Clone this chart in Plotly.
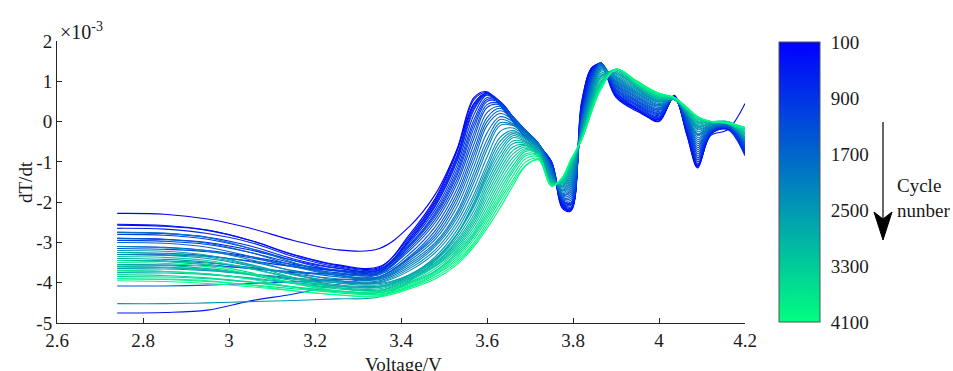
import plotly.graph_objects as go

# ---------------- data (dT/dt in units of 1e-3) ----------------
VOLTAGE = [2.74, 2.85, 2.95, 3.05, 3.15, 3.25, 3.35,
           3.42, 3.48, 3.53, 3.57, 3.60, 3.63, 3.66, 3.69, 3.72,
           3.75, 3.775, 3.795, 3.82, 3.845, 3.865, 3.90, 3.95,
           4.00, 4.035, 4.065, 4.09, 4.12, 4.16, 4.20]

CYCLES = list(range(100, 4101, 100))

DTDT_0100 = [-2.28, -2.30, -2.42, -2.65, -2.95, -3.18, -3.15,
             -2.6, -1.8, -0.7, 0.45, 0.70, 0.45, 0.05, -0.35, -0.6,
             -1.0, -2.15, -2.22, 0.4, 1.35, 1.4, 0.65, 0.3,
             0.0, 0.65, -0.35, -1.15, -0.3, -0.15, -0.75]
DTDT_0200 = [-2.55, -2.58, -2.69, -2.95, -3.31, -3.57, -3.62,
             -2.8, -1.9, -0.7, 0.6, 0.74, 0.42, 0.02, -0.38, -0.62,
             -1.02, -2.12, -2.2, 0.45, 1.35, 1.4, 0.62, 0.28,
             0.02, 0.62, -0.32, -1.12, -0.32, -0.18, -0.7]
DTDT_0300 = [-2.57, -2.6, -2.7, -2.95, -3.3, -3.55, -3.6,
             -2.85, -1.95, -0.75, 0.55, 0.72, 0.4, 0.0, -0.4, -0.65,
             -1.05, -2.1, -2.18, 0.5, 1.35, 1.4, 0.6, 0.25,
             0.05, 0.6, -0.3, -1.1, -0.35, -0.2, 0.45]
DTDT_0400 = [-2.9, -2.92, -3.0, -3.19, -3.45, -3.64, -3.68,
             -2.9, -2.0, -0.85, 0.45, 0.7, 0.45, 0.05, -0.35, -0.62,
             -1.02, -2.08, -2.18, 0.4, 1.32, 1.42, 0.65, 0.28,
             0.05, 0.6, -0.28, -1.08, -0.32, -0.15, -0.78]
DTDT_0500 = [-4.75, -4.74, -4.68, -4.45, -4.28, -4.05, -3.75,
             -2.95, -2.05, -0.9, 0.4, 0.66, 0.45, 0.05, -0.35, -0.6,
             -1.0, -2.05, -2.18, 0.3, 1.3, 1.45, 0.7, 0.3,
             0.05, 0.6, -0.25, -1.05, -0.3, -0.1, -0.8]
DTDT_0600 = [-2.75, -2.78, -2.87, -3.09, -3.41, -3.63, -3.68,
             -2.95, -2.08, -0.95, 0.35, 0.7, 0.48, 0.08, -0.32, -0.6,
             -1.0, -2.02, -2.15, 0.28, 1.28, 1.45, 0.7, 0.32,
             0.08, 0.6, -0.22, -1.0, -0.3, -0.15, -0.82]
DTDT_0700 = [-2.65, -2.67, -2.78, -3.0, -3.35, -3.6, -3.65,
             -2.95, -2.1, -1.0, 0.3, 0.7, 0.5, 0.1, -0.3, -0.6,
             -1.0, -2.0, -2.12, 0.25, 1.25, 1.45, 0.7, 0.35,
             0.1, 0.6, -0.2, -0.95, -0.3, -0.2, -0.85]
DTDT_0800 = [-3.3, -3.31, -3.35, -3.46, -3.6, -3.7, -3.72,
             -3.0, -2.18, -1.1, 0.18, 0.66, 0.5, 0.11, -0.29, -0.59,
             -1.02, -1.98, -2.08, 0.2, 1.22, 1.45, 0.72, 0.38,
             0.12, 0.6, -0.18, -0.9, -0.28, -0.15, -0.75]
DTDT_0900 = [-3.1, -3.12, -3.2, -3.35, -3.55, -3.68, -3.7,
             -3.05, -2.25, -1.2, 0.05, 0.6, 0.5, 0.12, -0.28, -0.58,
             -1.05, -1.95, -2.05, 0.15, 1.2, 1.45, 0.75, 0.4,
             0.15, 0.6, -0.15, -0.85, -0.25, -0.1, -0.65]
DTDT_1000 = [-2.95, -2.97, -3.05, -3.25, -3.52, -3.71, -3.75,
             -3.08, -2.3, -1.28, -0.05, 0.55, 0.49, 0.12, -0.26, -0.56,
             -1.08, -1.95, -2.02, 0.12, 1.18, 1.45, 0.78, 0.42,
             0.18, 0.6, -0.1, -0.8, -0.25, -0.12, -0.68]
DTDT_1100 = [-2.8, -2.82, -2.92, -3.15, -3.45, -3.7, -3.75,
             -3.1, -2.35, -1.35, -0.15, 0.5, 0.48, 0.12, -0.25, -0.55,
             -1.1, -1.95, -2.0, 0.1, 1.15, 1.45, 0.8, 0.45,
             0.2, 0.6, -0.05, -0.75, -0.25, -0.15, -0.7]
DTDT_1200 = [-3.15, -3.17, -3.23, -3.38, -3.6, -3.75, -3.78,
             -3.15, -2.42, -1.45, -0.28, 0.42, 0.45, 0.12, -0.23, -0.55,
             -1.1, -1.92, -1.95, 0.08, 1.12, 1.45, 0.82, 0.48,
             0.22, 0.6, -0.02, -0.7, -0.22, -0.12, -0.62]
DTDT_1300 = [-3.45, -3.47, -3.55, -3.65, -3.75, -3.78, -3.75,
             -3.2, -2.5, -1.55, -0.4, 0.35, 0.42, 0.12, -0.22, -0.55,
             -1.1, -1.9, -1.9, 0.05, 1.1, 1.45, 0.85, 0.5,
             0.25, 0.6, 0.0, -0.65, -0.2, -0.1, -0.55]
DTDT_1400 = [-3.55, -3.56, -3.58, -3.64, -3.73, -3.79, -3.8,
             -3.28, -2.6, -1.68, -0.55, 0.22, 0.38, 0.11, -0.22, -0.55,
             -1.12, -1.88, -1.85, 0.02, 1.08, 1.45, 0.88, 0.52,
             0.28, 0.6, 0.02, -0.6, -0.2, -0.1, -0.58]
DTDT_1500 = [-4.08, -4.08, -4.06, -4.02, -3.98, -3.92, -3.85,
             -3.35, -2.7, -1.8, -0.7, 0.1, 0.33, 0.1, -0.22, -0.55,
             -1.15, -1.85, -1.8, 0.0, 1.05, 1.45, 0.9, 0.55,
             0.3, 0.6, 0.05, -0.55, -0.2, -0.1, -0.6]
DTDT_1600 = [-2.9, -2.93, -3.02, -3.25, -3.57, -3.8, -3.85,
             -3.38, -2.78, -1.9, -0.82, 0.0, 0.27, 0.08, -0.23, -0.55,
             -1.18, -1.82, -1.75, -0.02, 1.02, 1.42, 0.92, 0.58,
             0.32, 0.58, 0.08, -0.5, -0.18, -0.08, -0.55]
DTDT_1700 = [-3.0, -3.02, -3.12, -3.35, -3.6, -3.82, -3.85,
             -3.4, -2.85, -2.0, -0.95, -0.1, 0.2, 0.05, -0.25, -0.55,
             -1.2, -1.8, -1.7, -0.05, 1.0, 1.4, 0.95, 0.6,
             0.35, 0.55, 0.1, -0.45, -0.15, -0.05, -0.5]
DTDT_1800 = [-3.25, -3.27, -3.33, -3.48, -3.7, -3.85, -3.88,
             -3.45, -2.92, -2.12, -1.1, -0.28, 0.12, 0.0, -0.28, -0.58,
             -1.22, -1.78, -1.65, -0.08, 0.95, 1.4, 0.98, 0.62,
             0.38, 0.55, 0.12, -0.4, -0.15, -0.08, -0.48]
DTDT_1900 = [-2.75, -2.77, -2.88, -3.15, -3.5, -3.8, -3.9,
             -3.5, -3.0, -2.25, -1.25, -0.45, 0.05, -0.05, -0.3, -0.6,
             -1.25, -1.75, -1.6, -0.1, 0.9, 1.4, 1.0, 0.65,
             0.4, 0.55, 0.15, -0.35, -0.15, -0.1, -0.45]
DTDT_2000 = [-3.45, -3.46, -3.51, -3.62, -3.78, -3.9, -3.92,
             -3.55, -3.05, -2.32, -1.38, -0.58, -0.03, -0.08, -0.32, -0.61,
             -1.28, -1.72, -1.55, -0.12, 0.88, 1.38, 1.02, 0.68,
             0.42, 0.55, 0.15, -0.32, -0.12, -0.08, -0.48]
DTDT_2100 = [-3.6, -3.62, -3.68, -3.78, -3.88, -3.95, -3.95,
             -3.6, -3.1, -2.4, -1.5, -0.7, -0.1, -0.1, -0.35, -0.62,
             -1.3, -1.7, -1.5, -0.15, 0.85, 1.35, 1.05, 0.7,
             0.45, 0.55, 0.15, -0.3, -0.1, -0.05, -0.5]
DTDT_2200 = [-3.1, -3.13, -3.21, -3.43, -3.72, -3.94, -3.98,
             -3.65, -3.18, -2.5, -1.65, -0.88, -0.25, -0.16, -0.38, -0.64,
             -1.32, -1.68, -1.45, -0.18, 0.8, 1.32, 1.08, 0.72,
             0.48, 0.55, 0.18, -0.25, -0.1, -0.05, -0.45]
DTDT_2300 = [-3.3, -3.32, -3.4, -3.58, -3.8, -3.97, -4.0,
             -3.7, -3.25, -2.6, -1.8, -1.05, -0.4, -0.22, -0.4, -0.65,
             -1.35, -1.65, -1.4, -0.2, 0.75, 1.3, 1.1, 0.75,
             0.5, 0.55, 0.2, -0.2, -0.1, -0.05, -0.4]
DTDT_2400 = [-3.65, -3.66, -3.7, -3.79, -3.91, -4.0, -4.02,
             -3.8, -3.35, -2.7, -1.9, -1.15, -0.5, -0.26, -0.42, -0.68,
             -1.38, -1.62, -1.35, -0.22, 0.72, 1.28, 1.12, 0.78,
             0.5, 0.55, 0.2, -0.18, -0.08, -0.05, -0.42]
DTDT_2500 = [-4.52, -4.52, -4.5, -4.47, -4.44, -4.4, -4.35,
             -3.95, -3.45, -2.8, -2.0, -1.25, -0.6, -0.3, -0.45, -0.7,
             -1.4, -1.6, -1.3, -0.25, 0.7, 1.25, 1.15, 0.8,
             0.5, 0.55, 0.2, -0.15, -0.05, -0.05, -0.45]
DTDT_2600 = [-3.4, -3.42, -3.49, -3.65, -3.88, -4.05, -4.08,
             -3.85, -3.42, -2.8, -2.05, -1.32, -0.7, -0.35, -0.48, -0.72,
             -1.42, -1.58, -1.25, -0.28, 0.65, 1.2, 1.18, 0.82,
             0.52, 0.55, 0.22, -0.12, -0.05, -0.02, -0.4]
DTDT_2700 = [-3.2, -3.22, -3.32, -3.55, -3.8, -4.0, -4.05,
             -3.8, -3.4, -2.8, -2.1, -1.4, -0.8, -0.4, -0.5, -0.75,
             -1.45, -1.55, -1.2, -0.3, 0.6, 1.15, 1.2, 0.85,
             0.55, 0.55, 0.25, -0.1, -0.05, 0.0, -0.35]
DTDT_2800 = [-3.75, -3.76, -3.8, -3.88, -4.0, -4.08, -4.1,
             -3.82, -3.45, -2.88, -2.2, -1.5, -0.9, -0.48, -0.52, -0.78,
             -1.48, -1.52, -1.18, -0.3, 0.58, 1.12, 1.22, 0.85,
             0.55, 0.55, 0.25, -0.08, -0.02, -0.02, -0.32]
DTDT_2900 = [-3.55, -3.57, -3.65, -3.78, -3.95, -4.08, -4.1,
             -3.85, -3.5, -2.95, -2.3, -1.6, -1.0, -0.55, -0.55, -0.8,
             -1.5, -1.5, -1.15, -0.3, 0.55, 1.1, 1.25, 0.85,
             0.55, 0.55, 0.25, -0.05, 0.0, -0.05, -0.3]
DTDT_3000 = [-3.25, -3.28, -3.36, -3.57, -3.87, -4.08, -4.12,
             -3.88, -3.52, -3.0, -2.38, -1.7, -1.1, -0.63, -0.58, -0.81,
             -1.5, -1.5, -1.12, -0.32, 0.52, 1.05, 1.28, 0.88,
             0.58, 0.55, 0.28, -0.02, 0.0, -0.02, -0.28]
DTDT_3100 = [-3.7, -3.72, -3.78, -3.9, -4.02, -4.12, -4.15,
             -3.9, -3.55, -3.05, -2.45, -1.8, -1.2, -0.72, -0.6, -0.82,
             -1.5, -1.5, -1.1, -0.35, 0.5, 1.0, 1.3, 0.9,
             0.6, 0.55, 0.3, 0.0, 0.0, 0.0, -0.25]
DTDT_3200 = [-3.6, -3.62, -3.68, -3.81, -4.01, -4.15, -4.18,
             -3.92, -3.58, -3.1, -2.52, -1.9, -1.3, -0.81, -0.63, -0.84,
             -1.52, -1.48, -1.08, -0.38, 0.48, 0.98, 1.3, 0.9,
             0.6, 0.58, 0.3, 0.02, 0.0, -0.02, -0.28]
DTDT_3300 = [-3.35, -3.37, -3.45, -3.65, -3.9, -4.12, -4.2,
             -3.95, -3.6, -3.15, -2.6, -2.0, -1.4, -0.9, -0.67, -0.85,
             -1.55, -1.45, -1.05, -0.4, 0.45, 0.95, 1.3, 0.9,
             0.6, 0.6, 0.3, 0.05, 0.0, -0.05, -0.3]
DTDT_3400 = [-3.85, -3.86, -3.9, -3.99, -4.11, -4.2, -4.22,
             -3.98, -3.65, -3.2, -2.68, -2.1, -1.5, -1.0, -0.7, -0.83,
             -1.55, -1.45, -1.02, -0.4, 0.42, 0.92, 1.3, 0.92,
             0.62, 0.6, 0.3, 0.08, 0.0, -0.02, -0.25]
DTDT_3500 = [-3.8, -3.82, -3.88, -3.98, -4.1, -4.2, -4.25,
             -4.0, -3.7, -3.25, -2.75, -2.2, -1.6, -1.1, -0.74, -0.82,
             -1.55, -1.45, -1.0, -0.4, 0.4, 0.9, 1.3, 0.95,
             0.65, 0.6, 0.3, 0.1, 0.0, 0.0, -0.2]
DTDT_3600 = [-3.45, -3.47, -3.55, -3.75, -4.02, -4.21, -4.25,
             -4.02, -3.72, -3.3, -2.8, -2.28, -1.7, -1.18, -0.8, -0.84,
             -1.58, -1.42, -1.0, -0.42, 0.38, 0.9, 1.3, 0.95,
             0.65, 0.6, 0.32, 0.1, 0.0, -0.02, -0.2]
DTDT_3700 = [-3.9, -3.92, -3.97, -4.05, -4.15, -4.22, -4.25,
             -4.05, -3.75, -3.35, -2.85, -2.35, -1.8, -1.25, -0.85, -0.85,
             -1.6, -1.4, -1.0, -0.45, 0.35, 0.9, 1.3, 0.95,
             0.65, 0.6, 0.35, 0.1, 0.0, -0.05, -0.2]
DTDT_3800 = [-3.7, -3.72, -3.78, -3.91, -4.11, -4.25, -4.28,
             -4.08, -3.78, -3.4, -2.92, -2.42, -1.88, -1.35, -0.92, -0.88,
             -1.6, -1.4, -0.98, -0.45, 0.32, 0.88, 1.3, 0.98,
             0.68, 0.6, 0.35, 0.11, 0.0, -0.04, -0.18]
DTDT_3900 = [-3.5, -3.52, -3.6, -3.78, -4.0, -4.2, -4.3,
             -4.1, -3.8, -3.45, -3.0, -2.5, -1.95, -1.45, -1.0, -0.92,
             -1.6, -1.4, -0.95, -0.45, 0.3, 0.85, 1.3, 1.0,
             0.7, 0.6, 0.35, 0.12, 0.0, -0.03, -0.15]
DTDT_4000 = [-3.9, -3.91, -3.95, -4.06, -4.2, -4.3, -4.32,
             -4.12, -3.85, -3.5, -3.05, -2.58, -2.05, -1.52, -1.08, -0.95,
             -1.6, -1.4, -0.95, -0.45, 0.3, 0.82, 1.3, 0.98,
             0.7, 0.6, 0.34, 0.12, 0.0, -0.03, -0.15]
DTDT_4100 = [-3.95, -3.97, -4.02, -4.1, -4.2, -4.3, -4.35,
             -4.15, -3.9, -3.55, -3.1, -2.65, -2.15, -1.6, -1.1, -0.95,
             -1.6, -1.4, -0.95, -0.45, 0.3, 0.8, 1.3, 0.95,
             0.7, 0.6, 0.33, 0.12, 0.0, -0.03, -0.15]

CURVES = [DTDT_0100, DTDT_0200, DTDT_0300, DTDT_0400, DTDT_0500, DTDT_0600,
          DTDT_0700, DTDT_0800, DTDT_0900, DTDT_1000, DTDT_1100, DTDT_1200,
          DTDT_1300, DTDT_1400, DTDT_1500, DTDT_1600, DTDT_1700, DTDT_1800,
          DTDT_1900, DTDT_2000, DTDT_2100, DTDT_2200, DTDT_2300, DTDT_2400,
          DTDT_2500, DTDT_2600, DTDT_2700, DTDT_2800, DTDT_2900, DTDT_3000,
          DTDT_3100, DTDT_3200, DTDT_3300, DTDT_3400, DTDT_3500, DTDT_3600,
          DTDT_3700, DTDT_3800, DTDT_3900, DTDT_4000, DTDT_4100]

X_TICKS = [2.6, 2.8, 3.0, 3.2, 3.4, 3.6, 3.8, 4.0, 4.2]
X_TICK_LABELS = ["2.6", "2.8", "3", "3.2", "3.4", "3.6", "3.8", "4", "4.2"]
Y_TICKS = [-5, -4, -3, -2, -1, 0, 1, 2]
Y_TICK_LABELS = ["-5", "-4", "-3", "-2", "-1", "0", "1", "2"]
CBAR_TICKS = [100, 900, 1700, 2500, 3300, 4100]

# ---------------- layout helpers (pixel positions) ----------------
FONT = "Liberation Serif, Times New Roman, serif"
CMIN, CMAX = CYCLES[0], CYCLES[-1]
W, H = 953, 371
PX0, PX1, PY0, PY1 = 57, 745, 41, 323   # plot area in pixels
L, T = PX0, PY0
R, B = W - PX1, H - PY1
PW, PH = PX1 - PX0, PY1 - PY0


def px_x(px):
    return (px - PX0) / PW


def px_y(py):
    return 1 - (py - PY0) / PH


def winter(c):
    t = (c - CMIN) / (CMAX - CMIN)
    return f"rgb(0,{round(255 * t)},{round(255 * (1 - 0.5 * t))})"


fig = go.Figure()
for cyc, ys in zip(CYCLES, CURVES):
    fig.add_trace(go.Scatter(
        x=VOLTAGE, y=ys, mode="lines",
        line=dict(color=winter(cyc), width=1.1, shape="spline", smoothing=1.0),
        showlegend=False, hoverinfo="skip"))

# colorbar (values negated so that 100 sits at the top)
fig.add_trace(go.Scatter(
    x=[None], y=[None], mode="markers", showlegend=False, hoverinfo="skip",
    marker=dict(
        color=[-CMIN], cmin=-CMAX, cmax=-CMIN,
        colorscale=[[0, winter(CMAX)], [1, winter(CMIN)]],
        showscale=True,
        colorbar=dict(
            x=px_x(779), xanchor="left", y=px_y(182), yanchor="middle",
            thickness=41, thicknessmode="pixels",
            len=280, lenmode="pixels",
            outlinewidth=1, outlinecolor="#555555",
            tickvals=[-c for c in CBAR_TICKS],
            ticktext=[str(c) for c in CBAR_TICKS],
            ticks="outside", ticklen=7, tickcolor="rgba(0,0,0,0)",
            tickfont=dict(family=FONT, size=19, color="#1a1a1a"),
            xpad=0, ypad=0,
        ))))

axis_common = dict(
    showline=True, linecolor="#262626", linewidth=1, mirror=False,
    ticks="inside", ticklen=5, tickwidth=1, tickcolor="#262626",
    showgrid=False, zeroline=False,
    tickfont=dict(family=FONT, size=19, color="#1a1a1a"),
)

fig.update_layout(
    width=W, height=H, autosize=False,
    margin=dict(l=L, r=R, t=T, b=B),
    paper_bgcolor="white", plot_bgcolor="white",
    xaxis=dict(range=[2.6, 4.2], tickvals=X_TICKS, ticktext=X_TICK_LABELS,
               **axis_common),
    yaxis=dict(range=[-5, 2], tickvals=Y_TICKS, ticktext=Y_TICK_LABELS,
               **axis_common),
    annotations=[
        dict(text="×10<sup>-3</sup>", xref="paper", yref="paper",
             x=px_x(58), y=px_y(31), xanchor="left", yanchor="middle",
             showarrow=False, font=dict(family=FONT, size=20, color="#1a1a1a")),
        dict(text="dT/dt", xref="paper", yref="paper", textangle=-90,
             x=px_x(25), y=0.5, xanchor="center", yanchor="middle",
             showarrow=False, font=dict(family=FONT, size=19, color="#1a1a1a")),
        dict(text="Voltage/V", xref="paper", yref="paper",
             x=px_x(403), y=px_y(364), xanchor="center", yanchor="middle",
             showarrow=False, font=dict(family=FONT, size=19, color="#1a1a1a")),
        dict(text="Cycle<br>nunber", xref="paper", yref="paper", align="left",
             x=px_x(895), y=px_y(198), xanchor="left", yanchor="middle",
             showarrow=False, font=dict(family=FONT, size=19, color="#1a1a1a")),
    ],
    shapes=[
        dict(type="line", xref="paper", yref="paper",
             x0=px_x(883), x1=px_x(883), y0=px_y(122), y1=px_y(220),
             line=dict(color="black", width=1.2)),
        dict(type="path", xref="paper", yref="paper",
             path=(f"M {px_x(883)},{px_y(240)} L {px_x(874)},{px_y(212)} "
                   f"L {px_x(883)},{px_y(219)} L {px_x(892)},{px_y(212)} Z"),
             fillcolor="black", line=dict(color="black", width=1)),
    ],
)

fig.write_html(
    "out.html",
    config={"displayModeBar": False, "staticPlot": True},
    post_script=("document.body.style.margin='0px';"
                 "document.body.style.overflow='hidden';"),
)
